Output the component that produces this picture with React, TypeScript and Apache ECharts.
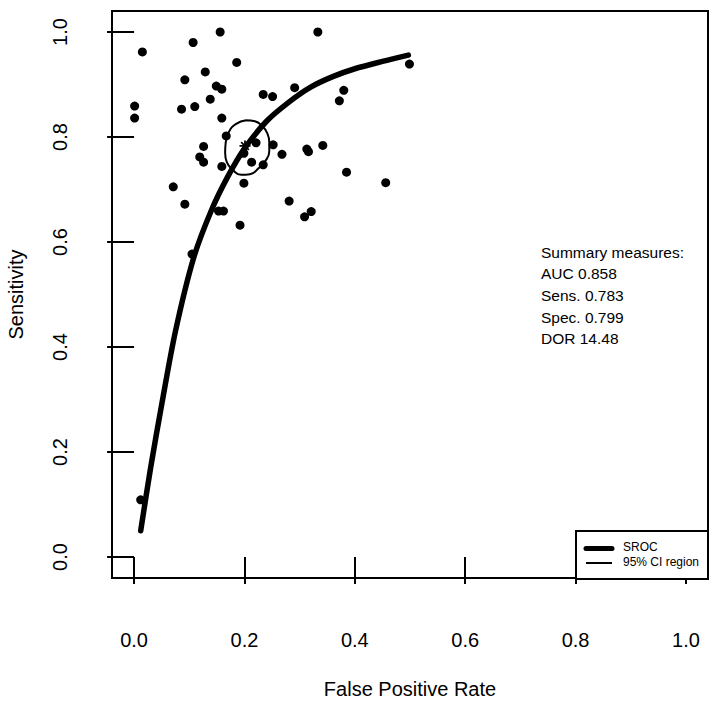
import React, { useEffect, useRef } from "react";
import * as echarts from "echarts";

// Study points: [false positive rate, sensitivity]
const studyFpr = [
  0.001, 0.001, 0.015, 0.107, 0.156, 0.186, 0.129, 0.092, 0.149, 0.159, 0.138, 0.110,
  0.086, 0.234, 0.251, 0.291, 0.333, 0.380, 0.372, 0.499, 0.159, 0.167, 0.126, 0.119,
  0.126, 0.159, 0.221, 0.199, 0.213, 0.252, 0.268, 0.234, 0.313, 0.316, 0.342, 0.199,
  0.071, 0.092, 0.281, 0.385, 0.456, 0.153, 0.162, 0.192, 0.309, 0.321, 0.105, 0.012,
];
const studySens = [
  0.859, 0.836, 0.962, 0.980, 1.000, 0.942, 0.924, 0.909, 0.897, 0.891, 0.872, 0.858,
  0.853, 0.881, 0.877, 0.894, 1.000, 0.889, 0.869, 0.939, 0.836, 0.802, 0.782, 0.762,
  0.752, 0.744, 0.789, 0.769, 0.752, 0.785, 0.767, 0.747, 0.777, 0.772, 0.784, 0.712,
  0.705, 0.672, 0.678, 0.733, 0.713, 0.659, 0.659, 0.632, 0.648, 0.658, 0.577, 0.109,
];

// SROC curve
const srocFpr = [0.012, 0.03, 0.05, 0.075, 0.108, 0.14, 0.17, 0.2, 0.24, 0.28, 0.32, 0.36, 0.4, 0.45, 0.497];
const srocSens = [0.05, 0.17, 0.29, 0.43, 0.57, 0.66, 0.725, 0.778, 0.83, 0.866, 0.895, 0.915, 0.93, 0.944, 0.956];

// 95% confidence region outline
const ciFpr = [0.203, 0.219, 0.232, 0.241, 0.245, 0.245, 0.239, 0.226, 0.21, 0.194, 0.179, 0.168, 0.165, 0.166, 0.172, 0.185, 0.203];
const ciSens = [0.832, 0.83, 0.821, 0.808, 0.79, 0.773, 0.756, 0.741, 0.729, 0.728, 0.737, 0.752, 0.77, 0.789, 0.81, 0.825, 0.832];

// Summary operating point
const summaryFpr = 1 - 0.799;
const summarySens = 0.783;

const tickValues = [0, 0.2, 0.4, 0.6, 0.8, 1.0];
const summaryLines = ["Summary measures:", "AUC 0.858", "Sens. 0.783", "Spec. 0.799", "DOR 14.48"];
const legendLabels = ["SROC", "95% CI region"];

const FONT = "Liberation Sans, Arial, sans-serif";

export default function App() {
  const ref = useRef<HTMLDivElement>(null);
  useEffect(() => {
    if (!ref.current) return;
    const chart = echarts.init(ref.current, null, { renderer: "svg" });
    const pts = studyFpr.map((x, i) => [x, studySens[i]]);
    const sroc = srocFpr.map((x, i) => [x, srocSens[i]]);
    const ci = ciFpr.map((x, i) => [x, ciSens[i]]);

    const axisCommon = {
      type: "value" as const,
      min: -0.04,
      max: 1.04,
      splitLine: { show: false },
      axisLine: { show: false },
      axisTick: {
        show: true,
        customValues: tickValues,
        length: 27,
        lineStyle: { color: "#000", width: 2 },
      },
      axisLabel: {
        customValues: tickValues,
        formatter: (v: number) => v.toFixed(1),
        color: "#000",
        fontSize: 20,
        fontFamily: FONT,
      },
      nameLocation: "middle" as const,
      nameTextStyle: { color: "#000", fontSize: 20, fontFamily: FONT },
    };

    chart.setOption({
      animation: false,
      backgroundColor: "#fff",
      grid: {
        left: 112,
        top: 11,
        width: 596,
        height: 567,
        show: true,
        borderColor: "#000",
        borderWidth: 2,
        backgroundColor: "transparent",
        containLabel: false,
        outerBoundsMode: "none",
      },
      xAxis: {
        ...axisCommon,
        name: "False Positive Rate",
        nameGap: 101,
        axisLabel: { ...axisCommon.axisLabel, margin: 52 },
      },
      yAxis: {
        ...axisCommon,
        name: "Sensitivity",
        nameGap: 86,
        nameRotate: 90,
        axisLabel: { ...axisCommon.axisLabel, margin: 42, rotate: 90 },
      },
      series: [
        {
          type: "scatter",
          data: pts,
          symbol: "circle",
          symbolSize: 9,
          itemStyle: { color: "#000", opacity: 1 },
          z: 3,
        },
        {
          type: "line",
          data: sroc,
          smooth: 0.3,
          showSymbol: false,
          lineStyle: { color: "#000", width: 5.5, cap: "round", join: "round" },
          z: 4,
        },
        {
          type: "line",
          data: ci,
          smooth: 0.5,
          showSymbol: false,
          lineStyle: { color: "#000", width: 2 },
          z: 4,
        },
        {
          type: "scatter",
          data: [[summaryFpr, summarySens]],
          symbol: "path://M0,-10L0,10M-10,0L10,0M-7,-7L7,7M-7,7L7,-7",
          symbolSize: 11,
          itemStyle: { color: "none", borderColor: "#000", borderWidth: 1.8, opacity: 1 },
          z: 5,
        },
      ],
      graphic: [
        ...summaryLines.map((t, i) => ({
          type: "text",
          left: 541,
          top: 244 + i * 21.7,
          style: { text: t, fill: "#000", font: `15.5px ${FONT}` },
        })),
        {
          type: "rect",
          shape: { x: 576, y: 531, width: 132, height: 48 },
          style: { fill: "#fff", stroke: "#000", lineWidth: 2 },
          z: 10,
        },
        {
          type: "line",
          shape: { x1: 586, y1: 548.5, x2: 612, y2: 548.5 },
          style: { stroke: "#000", lineWidth: 5, lineCap: "round" },
          z: 11,
        },
        {
          type: "line",
          shape: { x1: 586, y1: 563, x2: 612, y2: 563 },
          style: { stroke: "#000", lineWidth: 2 },
          z: 11,
        },
        ...legendLabels.map((t, i) => ({
          type: "text",
          left: 623,
          top: 541 + i * 14.5,
          style: { text: t, fill: "#000", font: `12px ${FONT}` },
          z: 11,
        })),
      ],
    });
    return () => chart.dispose();
  }, []);
  return (
    <div
      ref={ref}
      style={{ position: "fixed", left: 0, top: 0, width: 722, height: 714, background: "#fff" }}
    />
  );
}
